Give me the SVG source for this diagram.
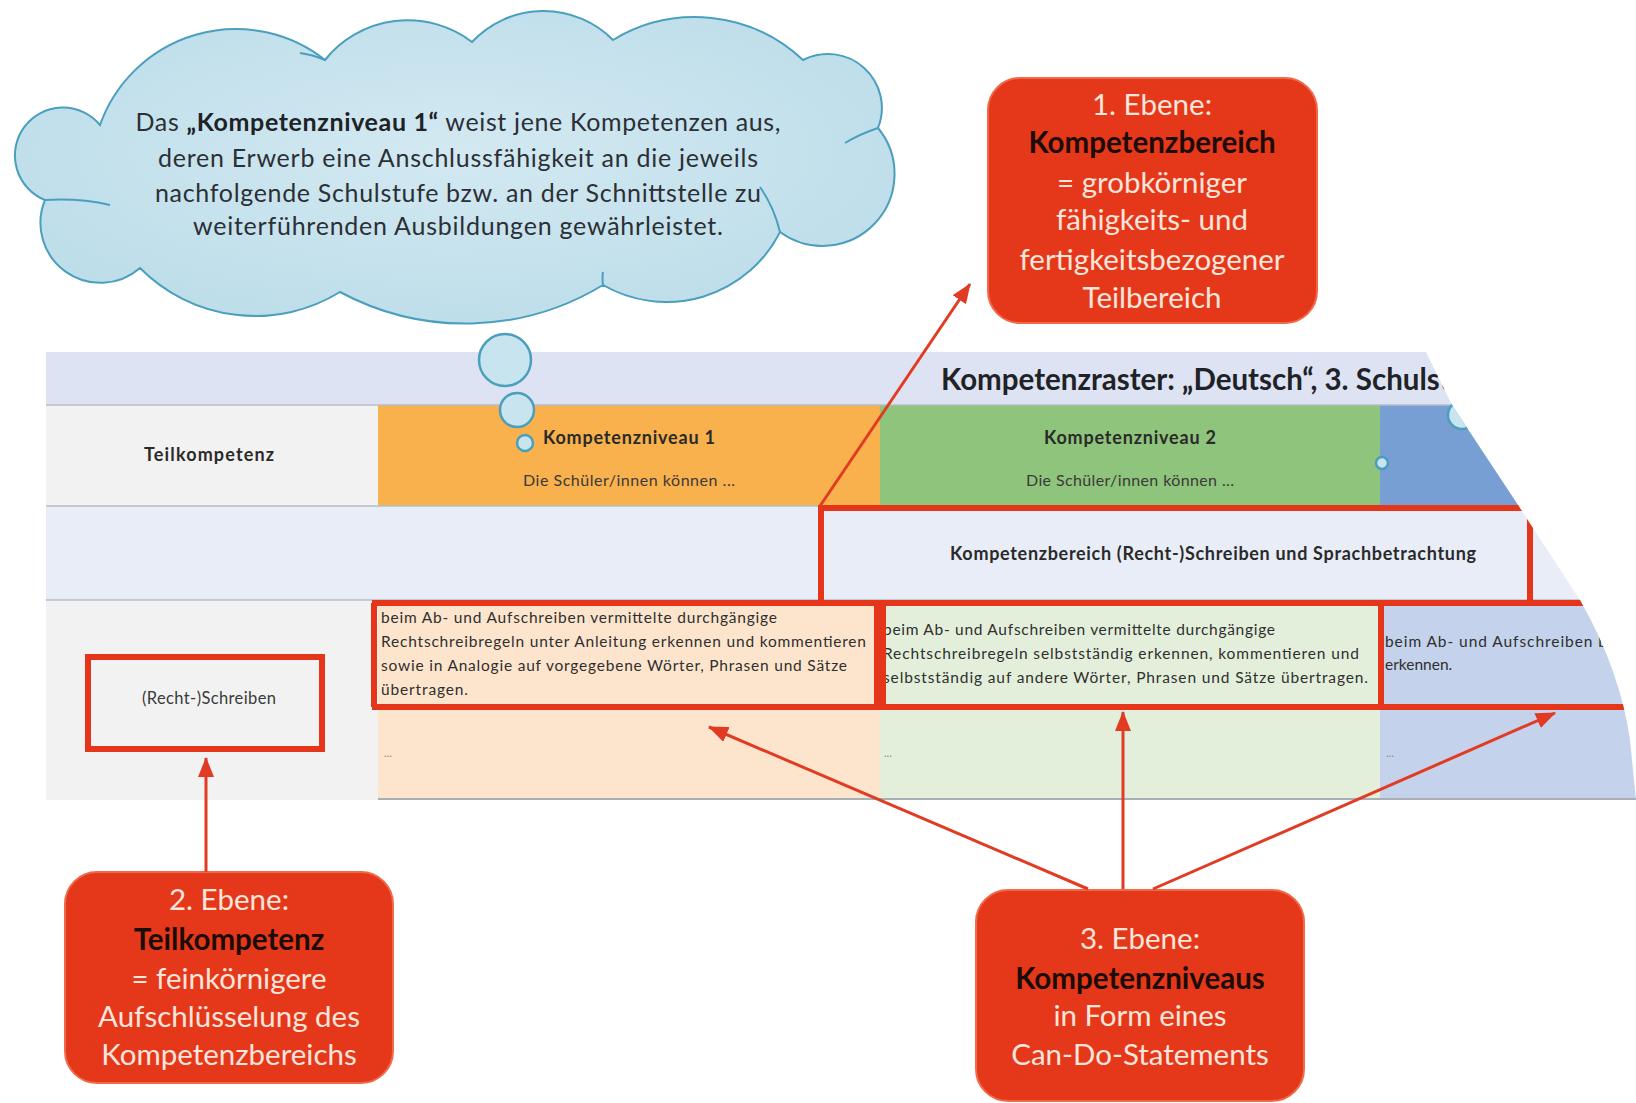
<svg xmlns="http://www.w3.org/2000/svg" width="1636" height="1103" viewBox="0 0 1636 1103">
<style>
.f{font-family:Lato,"Liberation Sans",Arial,sans-serif}
.cl{font-size:25px;fill:#2b3036}
.hd{font-size:18px;font-weight:bold;fill:#2a2a2a}
.sm{font-size:16px;fill:#3a3a3a}
.bd{font-size:15.5px;fill:#2f2f2f}
.hl{fill:none;stroke:#e5361b;stroke-width:6}
.call{fill:#e5381a;stroke:#f06a4a;stroke-width:2}
.ct{font-size:29.5px;fill:#fde5dc;text-anchor:middle}
.cb{font-size:29.5px;font-weight:bold;fill:#1c0c08;text-anchor:middle}
.bub{fill:#c7e4ef;stroke:#4a9fbd;stroke-width:2.5}
.arr{stroke:#e23b24;stroke-width:3;fill:none;marker-end:url(#ah)}
.sep{stroke:#b6bdc9;stroke-width:1.5}
</style>
<defs>
<marker id="ah" markerUnits="userSpaceOnUse" viewBox="0 0 20 16" markerWidth="20" markerHeight="16" refX="19" refY="8" orient="auto">
<path d="M0,0 L20,8 L0,16 z" fill="#e23b24"/>
</marker>
<clipPath id="tc">
<path d="M0,340 L1420,340 L1452,405 L1520,508 L1580,600 Q1620,670 1630,740 L1636,800 L1636,820 L0,820 Z"/>
</clipPath>
<radialGradient id="cg" cx="50%" cy="45%" r="60%">
<stop offset="0" stop-color="#d3e9f2"/>
<stop offset="1" stop-color="#bcdde9"/>
</radialGradient>
</defs>
<rect width="1636" height="1103" fill="#ffffff"/>

<g id="table" clip-path="url(#tc)">
<rect x="46" y="352" width="1600" height="53" fill="#dde3f2"/>
<rect x="46" y="405" width="332" height="101" fill="#f2f2f2"/>
<rect x="378" y="405" width="502" height="101" fill="#f8b14c"/>
<rect x="880" y="405" width="500" height="101" fill="#8fc47c"/>
<rect x="1380" y="405" width="260" height="101" fill="#789fd3"/>
<rect x="46" y="506" width="1600" height="94" fill="#e8edf8"/>
<rect x="46" y="600" width="332" height="200" fill="#f2f2f2"/>
<rect x="378" y="600" width="502" height="198" fill="#fde5cd"/>
<rect x="880" y="600" width="500" height="198" fill="#e3efdb"/>
<rect x="1380" y="600" width="260" height="198" fill="#c4d3eb"/>
<line class="sep" x1="46" y1="405" x2="1640" y2="405"/>
<line class="sep" x1="46" y1="506" x2="1640" y2="506"/>
<line class="sep" x1="46" y1="600" x2="1640" y2="600"/>
<line x1="378" y1="799" x2="1640" y2="799" stroke="#8e939c" stroke-width="1.5"/>
<text class="f" x="941" y="390" font-size="29.5" font-weight="bold" fill="#1f2328">Kompetenzraster: „Deutsch“, 3. Schulst</text>
<text class="f hd" x="209" y="461" text-anchor="middle" textLength="130">Teilkompetenz</text>
<text class="f hd" x="629" y="444" text-anchor="middle" textLength="172">Kompetenzniveau 1</text>
<text class="f sm" x="629" y="486" text-anchor="middle" textLength="212">Die Schüler/innen können ...</text>
<text class="f hd" x="1130" y="444" text-anchor="middle" textLength="172">Kompetenzniveau 2</text>
<text class="f sm" x="1130" y="486" text-anchor="middle" textLength="208">Die Schüler/innen können ...</text>
<text class="f hd" x="1213" y="560" text-anchor="middle" textLength="526">Kompetenzbereich (Recht-)Schreiben und Sprachbetrachtung</text>
<text class="f bd" x="381" y="623" textLength="396">beim Ab- und Aufschreiben vermittelte durchgängige</text>
<text class="f bd" x="381" y="647" textLength="485">Rechtschreibregeln unter Anleitung erkennen und kommentieren</text>
<text class="f bd" x="381" y="671" textLength="466">sowie in Analogie auf vorgegebene Wörter, Phrasen und Sätze</text>
<text class="f bd" x="381" y="695" textLength="87">übertragen.</text>
<text class="f bd" x="883" y="635" textLength="392">beim Ab- und Aufschreiben vermittelte durchgängige</text>
<text class="f bd" x="883" y="659" textLength="476">Rechtschreibregeln selbstständig erkennen, kommentieren und</text>
<text class="f bd" x="883" y="683" textLength="485">selbstständig auf andere Wörter, Phrasen und Sätze übertragen.</text>
<text class="f bd" x="1385" y="647" textLength="222">beim Ab- und Aufschreiben b</text>
<text class="f bd" x="1385" y="670">erkennen.</text>
<text class="f" x="209" y="704" font-size="16.5" fill="#3a3a3a" text-anchor="middle" textLength="134">(Recht-)Schreiben</text>
<text class="f" x="384" y="757" font-size="11" fill="#888">...</text>
<text class="f" x="884" y="757" font-size="11" fill="#888">...</text>
<text class="f" x="1386" y="757" font-size="11" fill="#888">...</text>
<circle class="bub" cx="1462" cy="415" r="14"/>
<circle class="bub" cx="1382" cy="463" r="6"/>
<path class="hl" d="M821,600 L821,508 L1530,508 L1530,602"/>
<path class="hl" d="M372,603 L1640,603 M372,707 L1640,707 M374,603 L374,707 M877,603 L877,707 M883,603 L883,707 M1381,603 L1381,707"/>
</g>

<g id="teilkompetenz-box">
<rect class="hl" x="88" y="657" width="234" height="92"/>
</g>

<g id="cloud">
<path d="M100,125 A144,144 0 0 1 325,60 A106,106 0 0 1 472,42 A98,98 0 0 1 613,40 A158,158 0 0 1 803,60 A54,54 0 0 1 878,128 A72,72 0 0 1 780,232 A127,127 0 0 1 603,285 A265,265 0 0 1 340,292 A162,162 0 0 1 140,268 A60,60 0 0 1 45,200 A48,48 0 1 1 100,125 Z" fill="url(#cg)" stroke="#4a9fbd" stroke-width="2"/>
<path d="M45,200 Q80,198 110,205 M878,128 Q860,134 845,143 M760,187 Q774,207 780,232 M603,285 Q602,278 603,272 M300,53 Q314,55 325,60" fill="none" stroke="#4a9fbd" stroke-width="2"/>
<text class="f cl" x="458" y="131" text-anchor="middle" textLength="645">Das <tspan font-weight="bold" fill="#1e2226">„Kompetenzniveau 1“</tspan> weist jene Kompetenzen aus,</text>
<text class="f cl" x="458" y="167" text-anchor="middle" textLength="600">deren Erwerb eine Anschlussfähigkeit an die jeweils</text>
<text class="f cl" x="458" y="202" text-anchor="middle" textLength="606">nachfolgende Schulstufe bzw. an der Schnittstelle zu</text>
<text class="f cl" x="458" y="235" text-anchor="middle" textLength="530">weiterführenden Ausbildungen gewährleistet.</text>
<circle class="bub" cx="505" cy="360" r="26"/>
<circle class="bub" cx="517" cy="410" r="17"/>
<circle class="bub" cx="525" cy="443" r="8"/>
</g>

<g id="ebene1">
<rect class="call" x="988" y="78" width="329" height="245" rx="32"/>
<text class="f ct" x="1152" y="115">1. Ebene:</text>
<text class="f cb" x="1152" y="153">Kompetenzbereich</text>
<text class="f ct" x="1152" y="193">= grobkörniger</text>
<text class="f ct" x="1152" y="230">fähigkeits- und</text>
<text class="f ct" x="1152" y="270">fertigkeitsbezogener</text>
<text class="f ct" x="1152" y="308">Teilbereich</text>
</g>

<g id="ebene2">
<rect class="call" x="65" y="872" width="328" height="211" rx="32"/>
<text class="f ct" x="229" y="910">2. Ebene:</text>
<text class="f cb" x="229" y="950">Teilkompetenz</text>
<text class="f ct" x="229" y="989">= feinkörnigere</text>
<text class="f ct" x="229" y="1027">Aufschlüsselung des</text>
<text class="f ct" x="229" y="1065">Kompetenzbereichs</text>
</g>

<g id="ebene3">
<rect class="call" x="976" y="890" width="328" height="211" rx="32"/>
<text class="f ct" x="1140" y="949">3. Ebene:</text>
<text class="f cb" x="1140" y="989">Kompetenzniveaus</text>
<text class="f ct" x="1140" y="1026">in Form eines</text>
<text class="f ct" x="1140" y="1065">Can-Do-Statements</text>
</g>

<g id="connectors">
<line class="arr" x1="820" y1="506" x2="970" y2="284"/>
<line class="arr" x1="206" y1="872" x2="206" y2="758"/>
<line class="arr" x1="1088" y1="889" x2="709" y2="727"/>
<line class="arr" x1="1123" y1="889" x2="1123" y2="712"/>
<line class="arr" x1="1153" y1="889" x2="1555" y2="713"/>
</g>
</svg>
